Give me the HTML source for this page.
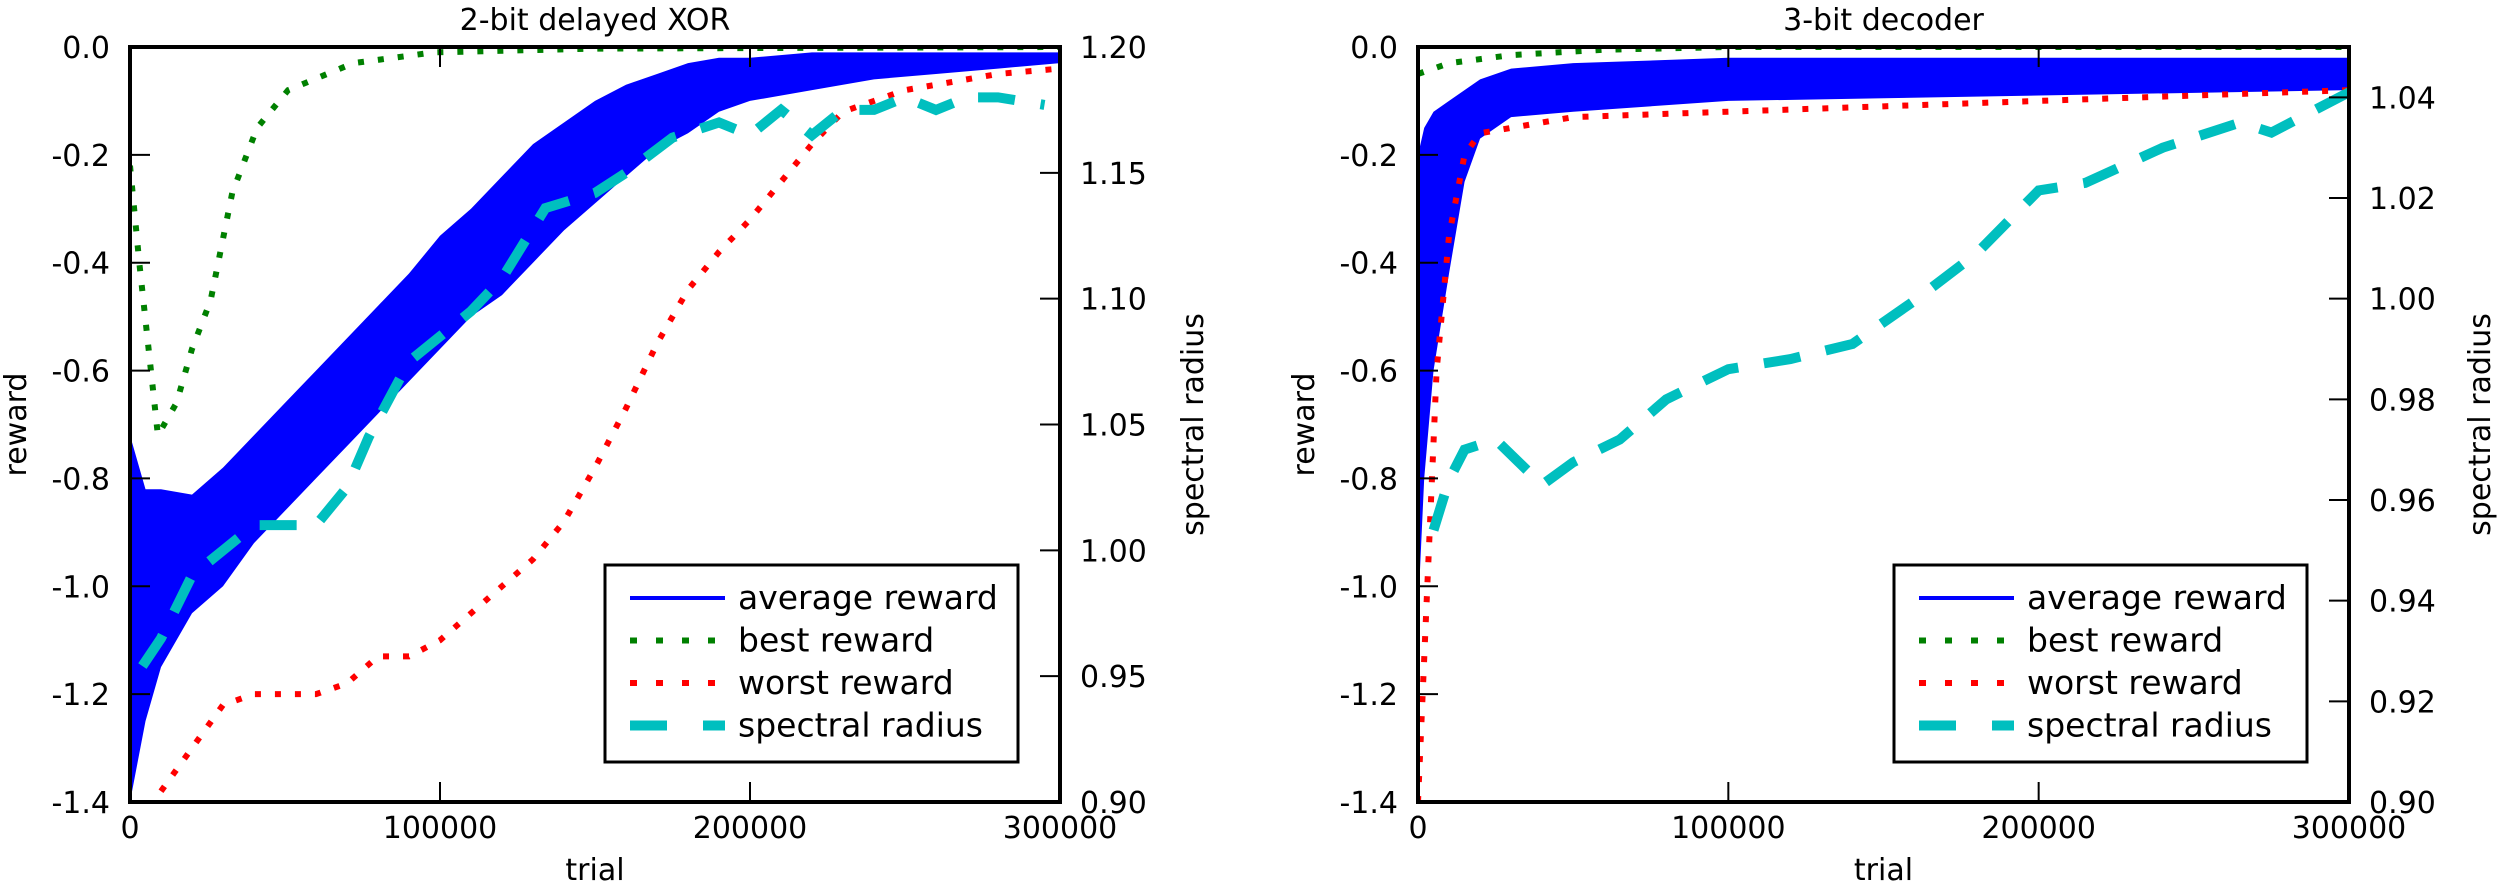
<!DOCTYPE html>
<html><head><meta charset="utf-8"><style>
body{margin:0;background:#fff}
svg{display:block;font-family:"DejaVu Sans","Liberation Sans",sans-serif}
</style></head><body>
<svg id="chart" width="2500" height="886" viewBox="0 0 2500 886" xmlns="http://www.w3.org/2000/svg"></svg>
<script>
// ---- data: left panel (2-bit delayed XOR), trial in thousands ----
const xorAvgT=[0,5,10,20,30,40,50,60,70,80,90,100,110,120,130,140,150,160,170,180,190,200,220,240,260,280,300];
const xorAvgMid=[-1.05,-1.0,-0.95,-0.93,-0.88,-0.83,-0.76,-0.70,-0.64,-0.58,-0.52,-0.46,-0.40,-0.35,-0.29,-0.24,-0.19,-0.15,-0.12,-0.09,-0.07,-0.06,-0.04,-0.03,-0.025,-0.02,-0.02];
const xorAvgHi=[-0.72,-0.82,-0.82,-0.83,-0.78,-0.72,-0.66,-0.60,-0.54,-0.48,-0.42,-0.35,-0.30,-0.24,-0.18,-0.14,-0.10,-0.07,-0.05,-0.03,-0.02,-0.02,-0.01,-0.01,-0.01,-0.01,-0.01];
const xorAvgLo=[-1.40,-1.25,-1.15,-1.05,-1.0,-0.92,-0.86,-0.80,-0.74,-0.68,-0.62,-0.56,-0.50,-0.46,-0.40,-0.34,-0.29,-0.24,-0.19,-0.16,-0.12,-0.10,-0.08,-0.06,-0.05,-0.04,-0.03];
const xorBestT=[0,3,9,15,20,26,33,41,51,72,98,150,300];
const xorBestV=[-0.22,-0.4,-0.72,-0.66,-0.56,-0.47,-0.27,-0.15,-0.08,-0.03,-0.01,-0.003,0];
const xorWorstT=[10,20,30,40,50,60,70,80,90,100,110,120,130,140,150,160,170,180,190,200,210,220,230,240,250,260,280,300];
const xorWorstV=[-1.38,-1.3,-1.22,-1.2,-1.2,-1.2,-1.18,-1.13,-1.13,-1.1,-1.05,-1.0,-0.95,-0.88,-0.78,-0.67,-0.55,-0.45,-0.38,-0.32,-0.25,-0.18,-0.12,-0.10,-0.08,-0.07,-0.05,-0.04];
const xorSrT=[4,10,20,30,40,50,60,70,77,90,100,110,120,134,150,160,175,190,200,210,220,230,240,250,260,270,280,295];
const xorSrV=[0.954,0.965,0.99,1.0,1.01,1.01,1.01,1.025,1.045,1.075,1.085,1.095,1.108,1.136,1.142,1.15,1.164,1.17,1.165,1.175,1.165,1.175,1.175,1.18,1.175,1.18,1.18,1.177];
// ---- data: right panel (3-bit decoder) ----
const decAvgT=[0,2,5,10,15,20,30,50,100,150,200,250,300];
const decAvgMid=[-0.6,-0.45,-0.35,-0.22,-0.15,-0.11,-0.085,-0.075,-0.06,-0.055,-0.055,-0.05,-0.05];
const decAvgHi=[-0.2,-0.15,-0.12,-0.1,-0.08,-0.06,-0.04,-0.03,-0.02,-0.02,-0.02,-0.02,-0.02];
const decAvgLo=[-1.05,-0.8,-0.6,-0.42,-0.25,-0.17,-0.13,-0.12,-0.1,-0.095,-0.09,-0.085,-0.08];
const decBestT=[0,10,30,60,100,300];
const decBestV=[-0.05,-0.03,-0.015,-0.005,0,0];
const decWorstT=[0,3,6,10,15,20,30,50,100,150,200,250,300];
const decWorstV=[-1.4,-1.0,-0.6,-0.35,-0.2,-0.16,-0.15,-0.13,-0.12,-0.11,-0.1,-0.09,-0.08];
const decSrT=[5,10,15,25,40,50,65,80,100,120,140,160,180,200,215,240,265,275,300];
const decSrV=[0.954,0.964,0.970,0.972,0.963,0.9675,0.972,0.980,0.986,0.988,0.991,0.9996,1.009,1.0215,1.023,1.03,1.035,1.033,1.041];
// ---- tick labels ----
const xTicks=[0,100000,200000,300000];
const rewardTicks=[0.0,-0.2,-0.4,-0.6,-0.8,-1.0,-1.2,-1.4];
const xorSrTicks=[0.90,0.95,1.00,1.05,1.10,1.15,1.20];
const decSrTicks=[0.90,0.92,0.94,0.96,0.98,1.00,1.02,1.04];

const NS="http://www.w3.org/2000/svg";
const svg=document.getElementById('chart');
function mk(tag,attrs,parent){const e=document.createElementNS(NS,tag);for(const k in attrs)e.setAttribute(k,attrs[k]);(parent||svg).appendChild(e);return e;}

function panel(p){
  const g=mk('g',{});
  
  
  const L=p.x0,R=p.x1,T=47,B=802;
  const sx=t=>L+(t*1000)/300000*(R-L);
  const sy=v=>T+(0-v)/1.4*(B-T);
  const sy2=v=>B-(v-0.9)/(p.srMax-0.9)*(B-T);
  const cp=mk('clipPath',{id:'clip-'+p.name},g);
  mk('rect',{x:L,y:T,width:R-L,height:B-T},cp);
  const pg=mk('g',{'clip-path':'url(#clip-'+p.name+')'},g);
  let d='';
  p.avgT.forEach((t,i)=>{d+=(i?'L':'M')+sx(t)+' '+sy(p.avgHi[i]);});
  for(let i=p.avgT.length-1;i>=0;i--)d+='L'+sx(p.avgT[i])+' '+sy(p.avgLo[i]);
  const band=mk('path',{d:d+'Z',fill:'#0000ff'},pg);
  
  
  const line=(ts,vs,f,attrs,name)=>{const el=mk('polyline',Object.assign({points:ts.map((t,i)=>sx(t)+','+f(vs[i])).join(' '),fill:'none'},attrs),pg);
    
    };
  line(p.avgT,p.avgMid,sy,{stroke:'#0000ff','stroke-width':3},'average-reward-line');
  line(p.bestT,p.bestV,sy,{stroke:'#008000','stroke-width':6,'stroke-dasharray':'6 14'},'best-reward-line');
  line(p.worstT,p.worstV,sy,{stroke:'#ff0000','stroke-width':6,'stroke-dasharray':'6 14'},'worst-reward-line');
  line(p.srT,p.srV,sy2,{stroke:'#00bfbf','stroke-width':10,'stroke-dasharray':'37 26'},'spectral-radius-line');
  const fr=mk('rect',{x:L,y:T,width:R-L,height:B-T,fill:'none',stroke:'#000','stroke-width':4},g);
  
  
  xTicks.forEach(v=>{const x=sx(v/1000);
    mk('line',{x1:x,x2:x,y1:B,y2:B-20,stroke:'#000','stroke-width':2},g);
    mk('line',{x1:x,x2:x,y1:T,y2:T+20,stroke:'#000','stroke-width':2},g);
    const t=mk('text',{x:x,y:838,'font-size':30,'text-anchor':'middle'},g);t.textContent=String(v);
    
    });
  rewardTicks.forEach(v=>{const y=sy(v);
    mk('line',{x1:L,x2:L+20,y1:y,y2:y,stroke:'#000','stroke-width':2},g);
    const t=mk('text',{x:L-20,y:y+11,'font-size':30,'text-anchor':'end'},g);t.textContent=v.toFixed(1);
    
    });
  p.srTicks.forEach(v=>{const y=sy2(v);
    mk('line',{x1:R,x2:R-20,y1:y,y2:y,stroke:'#000','stroke-width':2},g);
    const t=mk('text',{x:R+20,y:y+11,'font-size':30},g);t.textContent=v.toFixed(2);
    
    });
  const title=mk('text',{x:(L+R)/2,y:30,'font-size':30,'text-anchor':'middle'},g);title.textContent=p.title;
  
  
  const xl=mk('text',{x:(L+R)/2,y:880,'font-size':30,'text-anchor':'middle'},g);xl.textContent='trial';
  
  
  const yl=mk('text',{x:0,y:0,'font-size':30,'text-anchor':'middle',transform:'translate('+(L-104)+','+((T+B)/2)+') rotate(-90)'},g);yl.textContent='reward';
  
  
  const yr=mk('text',{x:0,y:0,'font-size':30,'text-anchor':'middle',transform:'translate('+(R+p.y2off)+','+((T+B)/2)+') rotate(-90)'},g);yr.textContent='spectral radius';
  
  
  const lx=p.legX,ly=565;
  const lg=mk('g',{},g);
  
  
  mk('rect',{x:lx,y:ly,width:413,height:197,fill:'#fff',stroke:'#000','stroke-width':3},lg);
  const entries=[['average reward',{stroke:'#0000ff','stroke-width':4}],['best reward',{stroke:'#008000','stroke-width':6,'stroke-dasharray':'7 19'}],['worst reward',{stroke:'#ff0000','stroke-width':6,'stroke-dasharray':'7 19'}],['spectral radius',{stroke:'#00bfbf','stroke-width':10,'stroke-dasharray':'37 36'}]];
  entries.forEach((e,i)=>{const y=ly+33+i*42.5;
    mk('line',Object.assign({x1:lx+25,x2:lx+120,y1:y,y2:y},e[1]),lg);
    const t=mk('text',{x:lx+133,y:y+11,'font-size':33},lg);t.textContent=e[0];
    
    });
}
panel({name:'xor',title:'2-bit delayed XOR',x0:130,x1:1060,srMax:1.2,srTicks:xorSrTicks,legX:605,y2off:143,
  avgT:xorAvgT,avgMid:xorAvgMid,avgHi:xorAvgHi,avgLo:xorAvgLo,bestT:xorBestT,bestV:xorBestV,worstT:xorWorstT,worstV:xorWorstV,srT:xorSrT,srV:xorSrV});
panel({name:'decoder',title:'3-bit decoder',x0:1418,x1:2349,srMax:1.05,srTicks:decSrTicks,legX:1894,y2off:141,
  avgT:decAvgT,avgMid:decAvgMid,avgHi:decAvgHi,avgLo:decAvgLo,bestT:decBestT,bestV:decBestV,worstT:decWorstT,worstV:decWorstV,srT:decSrT,srV:decSrV});
</script>
</body></html>
